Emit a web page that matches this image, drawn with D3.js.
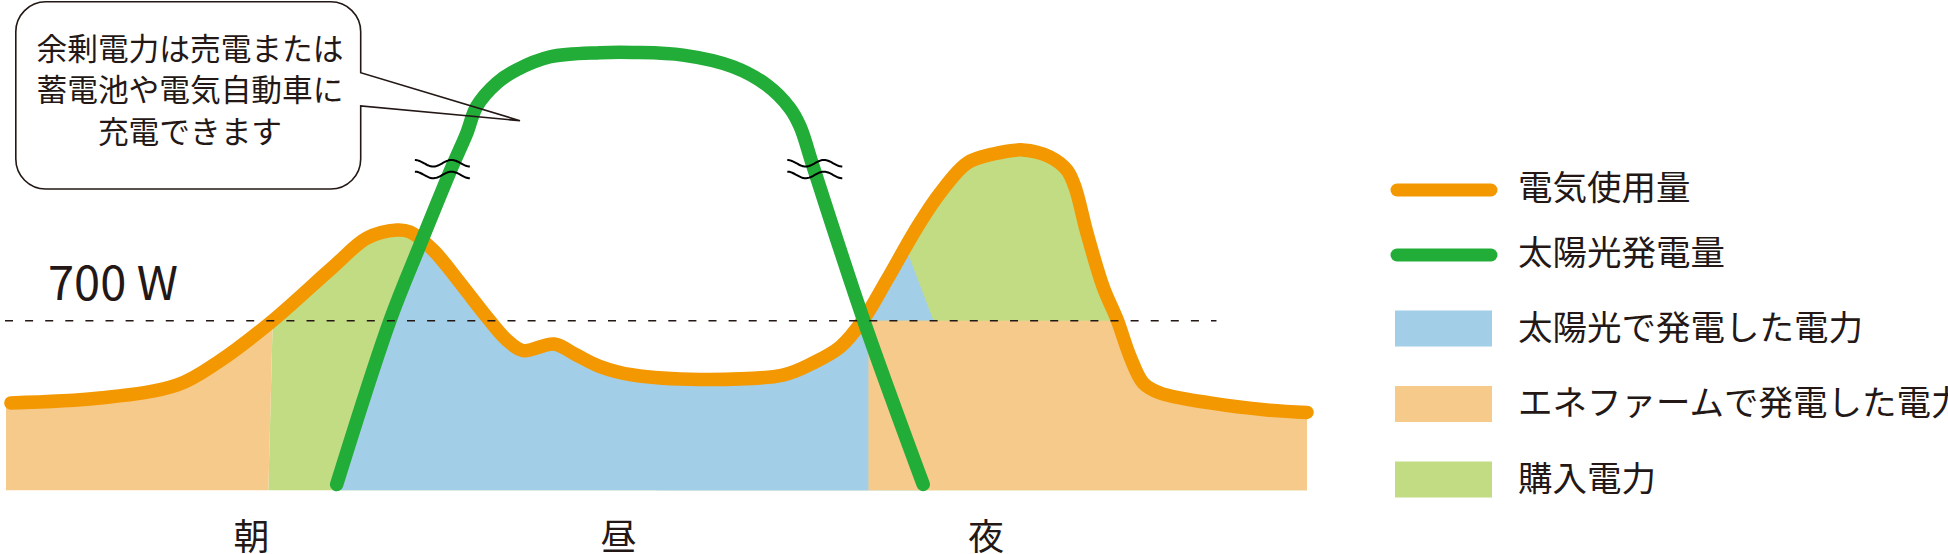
<!DOCTYPE html>
<html><head><meta charset="utf-8">
<script src="https://cdn.jsdelivr.net/npm/d3@7"></script>
<style>html,body{margin:0;padding:0;background:#fff}svg{display:block}</style>
</head><body>
<svg id="chart" width="1948" height="554"></svg>
<script>
// ---------------- data ----------------
// electricity usage (hour of day, watts)
const usageHours = [0.09,1.73,3.16,3.89,4.87,6.03,6.66,7.21,7.45,7.88,8.38,8.87,9.24,9.54,10.11,10.52,10.96,11.57,12.80,14.33,14.89,15.39,15.81,16.25,16.81,17.23,17.73,18.21,18.76,19.26,19.57,19.72,19.94,20.24,20.50,20.74,20.98,21.29,22.21,23.26,24.00];
const usageWatts = [361,381,435,526,691,921,1041,1074,1066,991,855,715,620,577,604,559,511,476,458,476,526,592,703,868,1086,1226,1350,1387,1404,1375,1321,1251,1062,839,703,550,443,402,361,332,322];
// solar generation (hour of day, watts)
const solarHours = [6.10,7.08,7.65,8.23,8.50,8.68,9.05,9.42,10.04,10.96,11.57,12.49,13.41,14.03,14.46,14.65,14.89,15.82,16.92];
const solarWatts = [25,699,1019,1335,1473,1582,1679,1734,1788,1805,1806,1795,1747,1672,1576,1500,1335,703,25];
// Ene-Farm output level and switch points
const enefarmWatts = 700;
const thresholdLabel = '700 W';
const thresholdEndHour = 22.33;
const morningSwitchHours = [4.84, 4.92];   // at 0 W and 700 W
const eveningSwitchHour = 15.91;
const eveningSolarEdgeHours = [16.65, 17.11]; // at 971 W and 700 W
const eveningSolarEdgeWatts = [971, 700];
const topWatts = 1600;
// axis-break marks on the solar line
const breakMarkHours = [8.05, 14.92];
const breakMarkWatts = 1325;
// time-of-day labels
const timeLabels = ['朝','昼','夜'];
const timeLabelHours = [4.53, 11.30, 18.08];
// callout
const calloutLines = ['余剰電力は売電または','蓄電池や電気自動車に','充電できます'];
// legend
const legendLabels = ['電気使用量','太陽光発電量','太陽光で発電した電力','エネファームで発電した電力','購入電力'];
const legendKinds = ['line','line','box','box','box'];

// ---------------- style ----------------
const C = {
  usage: '#F39800', solar: '#22AC38',
  solarFill: '#A2CEE8', enefarmFill: '#F6CA8B', buyFill: '#C2DC84',
  ink: '#231815'
};
const legendColors = [C.usage, C.solar, C.solarFill, C.enefarmFill, C.buyFill];
const FONT = '"Noto Sans CJK JP", "Noto Sans", sans-serif';

const svg = d3.select('#chart');
const x = d3.scaleLinear().domain([0, 24]).range([6, 1307]);
const y = d3.scaleLinear().domain([0, 700]).range([490.5, 320.7]);

const usage = usageHours.map((h, i) => ({h, w: usageWatts[i]}));
const solar = solarHours.map((h, i) => ({h, w: solarWatts[i]}));
const curve = d3.curveCatmullRom.alpha(0.5);

const lineGen = d3.line().x(d => x(d.h)).y(d => y(d.w)).curve(curve);
const areaGen = d3.area().x(d => x(d.h)).y0(y(0)).y1(d => y(d.w)).curve(curve);
const poly = pts => 'M' + pts.map(p => x(p[0]) + ',' + y(p[1])).join('L') + 'Z';

// hour along a straight edge through two (h,w) points at watt level w
function edgeAt(h1, w1, h2, w2, w) { return h1 + (h2 - h1) * (w - w1) / (w2 - w1); }

// clip: area under usage curve
const defs = svg.append('defs');
defs.append('clipPath').attr('id', 'underUsage')
  .append('path')
  .attr('d', areaGen([{h: 0, w: usageWatts[0]}].concat(usage)));

const fills = svg.append('g').attr('clip-path', 'url(#underUsage)');
const mTop = edgeAt(morningSwitchHours[0], 0, morningSwitchHours[1], enefarmWatts, topWatts);
// purchased power (base layer after morning switch)
fills.append('path').attr('fill', C.buyFill)
  .attr('d', poly([[morningSwitchHours[0], 0], [24, 0], [24, topWatts], [mTop, topWatts]]));
// Ene-Farm morning
fills.append('path').attr('fill', C.enefarmFill)
  .attr('d', poly([[0, 0], [morningSwitchHours[0], 0], [mTop, topWatts], [0, topWatts]]));
// solar generated power (under solar curve)
fills.append('path').attr('fill', C.solarFill).attr('d', areaGen(solar));
// solar covering the late afternoon until Ene-Farm starts
const eTop = edgeAt(eveningSolarEdgeHours[0], eveningSolarEdgeWatts[0], eveningSolarEdgeHours[1], eveningSolarEdgeWatts[1], topWatts);
fills.append('path').attr('fill', C.solarFill)
  .attr('d', poly([[12, 0], [eveningSwitchHour, 0], [eveningSwitchHour, enefarmWatts],
                   [eveningSolarEdgeHours[1], enefarmWatts], [eTop, topWatts], [12, topWatts]]));
// Ene-Farm evening
fills.append('path').attr('fill', C.enefarmFill)
  .attr('d', poly([[eveningSwitchHour, 0], [24, 0], [24, enefarmWatts], [eveningSwitchHour, enefarmWatts]]));

// lines
svg.append('path').attr('d', lineGen(usage)).attr('fill', 'none')
  .attr('stroke', C.usage).attr('stroke-width', 13.5).attr('stroke-linecap', 'round').attr('stroke-linejoin', 'round');
svg.append('path').attr('d', lineGen(solar)).attr('fill', 'none')
  .attr('stroke', C.solar).attr('stroke-width', 13.5).attr('stroke-linecap', 'round').attr('stroke-linejoin', 'round');

// 700 W threshold
svg.append('line')
  .attr('x1', x(0) - 1).attr('x2', x(thresholdEndHour))
  .attr('y1', y(enefarmWatts)).attr('y2', y(enefarmWatts))
  .attr('stroke', C.ink).attr('stroke-width', 1.4).attr('stroke-dasharray', '8,12.1');
svg.append('text').text(thresholdLabel)
  .attr('x', 48).attr('y', y(enefarmWatts) - 20.5)
  .attr('font-family', FONT).attr('font-size', 47).attr('fill', C.ink);

// break marks
breakMarkHours.forEach(h => {
  const cx = x(h), cy = y(breakMarkWatts);
  [-5.85, 5.85].forEach(dy => {
    const pts = d3.range(0, 55.5, 1).map(t => [cx - 27.5 + t, cy + dy - 3.3 * Math.cos(2 * Math.PI * t / 36.7)]);
    svg.append('path').attr('d', d3.line().curve(d3.curveBasis)(pts))
      .attr('fill', 'none').attr('stroke', '#000').attr('stroke-width', 2);
  });
});

// time labels
svg.selectAll('text.t').data(timeLabels).join('text').attr('class', 't')
  .text(d => d)
  .attr('x', (d, i) => x(timeLabelHours[i])).attr('y', 549.5)
  .attr('text-anchor', 'middle')
  .attr('font-family', FONT).attr('font-size', 36).attr('fill', C.ink);

// callout bubble
(function () {
  const L = 15.8, T = 1.8, R = 360.7, B = 189, r = 30;
  const p1 = 72.7, p2 = 106, tipX = 520, tipY = 120.7;
  const d = `M${L + r},${T}H${R - r}A${r},${r} 0 0 1 ${R},${T + r}V${p1}L${tipX},${tipY}L${R},${p2}V${B - r}` +
            `A${r},${r} 0 0 1 ${R - r},${B}H${L + r}A${r},${r} 0 0 1 ${L},${B - r}V${T + r}A${r},${r} 0 0 1 ${L + r},${T}Z`;
  svg.append('path').attr('d', d).attr('fill', 'none').attr('stroke', C.ink).attr('stroke-width', 1.6).attr('stroke-linejoin', 'miter');
  svg.selectAll('text.c').data(calloutLines).join('text').attr('class', 'c')
    .text(t => t)
    .attr('x', 190).attr('y', (t, i) => 59.7 + i * 41.6)
    .attr('text-anchor', 'middle')
    .attr('font-family', FONT).attr('font-size', 30.7).attr('fill', C.ink);
})();

// legend
const rowY = [190, 255, 328.5, 404, 479.5];
const lg = svg.append('g');
legendLabels.forEach((lab, i) => {
  if (legendKinds[i] === 'line') {
    lg.append('line').attr('x1', 1397).attr('x2', 1491).attr('y1', rowY[i]).attr('y2', rowY[i])
      .attr('stroke', legendColors[i]).attr('stroke-width', 13).attr('stroke-linecap', 'round');
  } else {
    lg.append('rect').attr('x', 1395).attr('y', rowY[i] - 18).attr('width', 97).attr('height', 36)
      .attr('fill', legendColors[i]);
  }
  lg.append('text').text(lab)
    .attr('x', 1518).attr('y', rowY[i] + (legendKinds[i] === 'line' ? 9.7 : 11))
    .attr('font-family', FONT).attr('font-size', 34.5).attr('fill', C.ink);
});
</script>
</body></html>
